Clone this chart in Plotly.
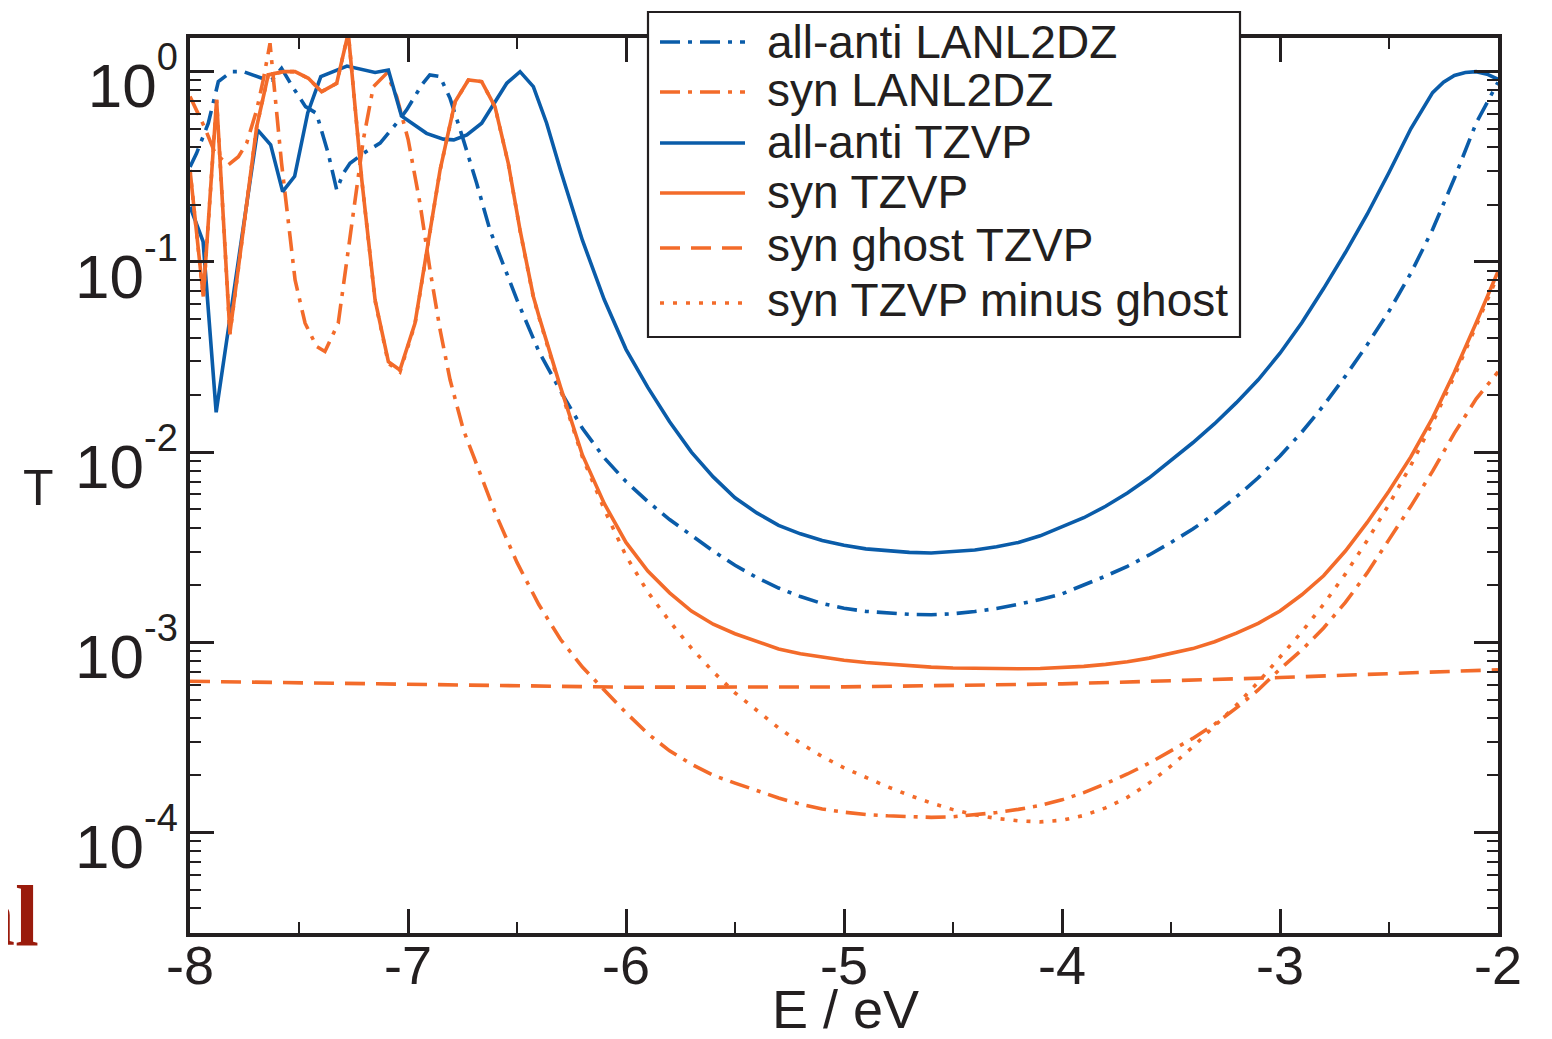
import plotly.graph_objects as go

# ---------------- data ----------------
# all-anti LANL2DZ (blue, dash-dot)
aa_lanl_x = [-8.0, -7.97, -7.916, -7.87, -7.81, -7.755, -7.67, -7.625, -7.58, -7.53,
             -7.47, -7.42, -7.366, -7.327, -7.297, -7.266, -7.205, -7.128, -7.052, -7.006,
             -6.937, -6.9, -6.853, -6.807, -6.746, -6.685, -6.624, -6.6, -6.5, -6.4,
             -6.3, -6.2, -6.1, -6.0, -5.9, -5.8, -5.7, -5.6, -5.5, -5.4,
             -5.3, -5.2, -5.1, -5.0, -4.9, -4.8, -4.7, -4.6, -4.5, -4.4,
             -4.3, -4.2, -4.1, -4.0, -3.9, -3.8, -3.7, -3.6, -3.5, -3.4,
             -3.3, -3.2, -3.1, -3.0, -2.9, -2.8, -2.7, -2.6, -2.5, -2.4,
             -2.3, -2.2, -2.1, -2.0]
aa_lanl_y = [0.316, 0.372, 0.536, 0.887, 1.0, 1.0, 0.923, 0.904, 1.04, 0.834,
             0.655, 0.604, 0.372, 0.239, 0.292, 0.33, 0.372, 0.421, 0.536, 0.63,
             0.851, 0.962, 0.942, 0.724, 0.438, 0.259, 0.147, 0.1247, 0.0631, 0.0339,
             0.0209, 0.01334, 0.00933, 0.007, 0.0055, 0.00442, 0.00363, 0.00302, 0.00254, 0.00219,
             0.00193, 0.00174, 0.0016, 0.00151, 0.001455, 0.001422, 0.001403, 0.001396, 0.001413, 0.001452,
             0.001507, 0.001585, 0.001679, 0.001799, 0.001995, 0.00223, 0.00251, 0.00288, 0.00335, 0.00394,
             0.00473, 0.00582, 0.00733, 0.00955, 0.01274, 0.01758, 0.0251, 0.0367, 0.055, 0.0871,
             0.148, 0.275, 0.537, 0.88]

# syn LANL2DZ (orange, dash-dot)
syn_lanl_x = [-8.0, -7.97, -7.931, -7.885, -7.824, -7.778, -7.74, -7.694, -7.664, -7.633,
              -7.58, -7.518, -7.472, -7.419, -7.381, -7.32, -7.289, -7.251, -7.205, -7.159,
              -7.098, -7.052, -6.999, -6.945, -6.899, -6.853, -6.807, -6.746, -6.7, -6.6,
              -6.5, -6.4, -6.3, -6.2, -6.1, -6.0, -5.9, -5.8, -5.7, -5.6,
              -5.5, -5.4, -5.3, -5.2, -5.1, -5.0, -4.9, -4.8, -4.7, -4.6,
              -4.5, -4.4, -4.3, -4.2, -4.1, -4.0, -3.9, -3.8, -3.7, -3.6,
              -3.5, -3.4, -3.3, -3.2, -3.1, -3.0, -2.9, -2.8, -2.7, -2.6,
              -2.5, -2.4, -2.3, -2.2, -2.1, -2.0]
syn_lanl_y = [0.74, 0.63, 0.504, 0.372, 0.324, 0.357, 0.421, 0.63, 0.904, 1.41,
              0.33, 0.0804, 0.0476, 0.0359, 0.0338, 0.0476, 0.0838, 0.18, 0.438, 0.834,
              0.98, 0.74, 0.438, 0.203, 0.0908, 0.044, 0.024, 0.0131, 0.00955, 0.00479,
              0.00263, 0.00158, 0.001035, 0.000741, 0.000562, 0.000427, 0.000331, 0.000269, 0.000229, 0.0002,
              0.000182, 0.000166, 0.000152, 0.000141, 0.000133, 0.000128, 0.0001245, 0.0001225, 0.0001208, 0.0001202,
              0.0001211, 0.0001236, 0.0001274, 0.0001324, 0.000139, 0.0001486, 0.0001622, 0.0001807, 0.0002032, 0.0002317,
              0.000269, 0.0003126, 0.0003715, 0.000452, 0.000562, 0.000724, 0.000912, 0.001189, 0.001622, 0.002317,
              0.003467, 0.005188, 0.00794, 0.01259, 0.01905, 0.02642]

# all-anti TZVP (blue, solid)
aa_tzvp_x = [-8.0, -7.94, -7.88, -7.69, -7.63, -7.575, -7.52, -7.46, -7.40, -7.28,
             -7.151, -7.09, -7.03, -6.915, -6.838, -6.79, -6.73, -6.662, -6.547, -6.486,
             -6.425, -6.364, -6.3, -6.2, -6.1, -6.0, -5.9, -5.8, -5.7, -5.6,
             -5.5, -5.4, -5.3, -5.2, -5.1, -5.0, -4.9, -4.8, -4.7, -4.6,
             -4.5, -4.4, -4.3, -4.2, -4.1, -4.0, -3.9, -3.8, -3.7, -3.6,
             -3.5, -3.4, -3.3, -3.2, -3.1, -3.0, -2.9, -2.8, -2.7, -2.6,
             -2.5, -2.4, -2.3, -2.25, -2.2, -2.15, -2.1, -2.05, -2.0]
aa_tzvp_y = [0.195, 0.128, 0.0162, 0.494, 0.412, 0.234, 0.282, 0.607, 0.942, 1.07,
             0.99, 1.02, 0.585, 0.474, 0.442, 0.438, 0.465, 0.536, 0.869, 1.0,
             0.834, 0.536, 0.302, 0.130, 0.0634, 0.0347, 0.0219, 0.01445, 0.0100, 0.00741,
             0.00575, 0.00479, 0.00412, 0.00372, 0.00343, 0.00324, 0.0031, 0.00302, 0.00297, 0.00295,
             0.00299, 0.00306, 0.00318, 0.00335, 0.00363, 0.00403, 0.00452, 0.00519, 0.0061, 0.00733,
             0.00902, 0.0112, 0.0141, 0.0182, 0.024, 0.0331, 0.0479, 0.0724, 0.112, 0.178,
             0.295, 0.501, 0.776, 0.881, 0.955, 0.99, 1.0, 0.97, 0.912]

# syn TZVP (orange, solid)
syn_tzvp_x = [-8.0, -7.939, -7.878, -7.817, -7.694, -7.641, -7.572, -7.518, -7.457, -7.396,
              -7.327, -7.274, -7.212, -7.151, -7.09, -7.037, -6.968, -6.914, -6.853, -6.784,
              -6.723, -6.662, -6.601, -6.54, -6.486, -6.425, -6.4, -6.3, -6.2, -6.1,
              -6.0, -5.9, -5.8, -5.7, -5.6, -5.5, -5.4, -5.3, -5.2, -5.1,
              -5.0, -4.9, -4.8, -4.7, -4.6, -4.5, -4.4, -4.3, -4.2, -4.1,
              -4.0, -3.9, -3.8, -3.7, -3.6, -3.5, -3.4, -3.3, -3.2, -3.1,
              -3.0, -2.9, -2.8, -2.7, -2.6, -2.5, -2.4, -2.3, -2.2, -2.1, -2.0]
syn_tzvp_y = [0.304, 0.0658, 0.71, 0.0422, 0.514, 0.962, 1.0, 1.0, 0.923, 0.785,
              0.869, 1.6, 0.27, 0.0631, 0.0299, 0.027, 0.0476, 0.116, 0.304, 0.695,
              0.904, 0.887, 0.655, 0.33, 0.147, 0.0658, 0.0521, 0.0219, 0.00966, 0.00537,
              0.00335, 0.00237, 0.00182, 0.00146, 0.001245, 0.00111, 0.001012, 0.000923, 0.000871, 0.000836,
              0.000805, 0.000783, 0.000766, 0.000752, 0.000741, 0.000733, 0.000728, 0.000726, 0.000726, 0.000728,
              0.000736, 0.000748, 0.000766, 0.000791, 0.000826, 0.000871, 0.000927, 0.001007, 0.001117, 0.001259,
              0.001462, 0.001778, 0.002239, 0.00302, 0.00427, 0.00624, 0.00944, 0.01514, 0.0263, 0.0479, 0.0891]

# syn ghost TZVP (orange, dashed)
ghost_x = [-8.0, -7.0, -6.0, -5.0, -4.0, -3.0, -2.0]
ghost_y = [0.000624, 0.0006, 0.000581, 0.000583, 0.000605, 0.000653, 0.000718]

# syn TZVP minus ghost (orange, dotted)
minus_x = [-8.0, -7.939, -7.878, -7.817, -7.694, -7.641, -7.572, -7.518, -7.457, -7.396,
           -7.327, -7.274, -7.212, -7.151, -7.09, -7.037, -6.968, -6.914, -6.853, -6.784,
           -6.723, -6.662, -6.601, -6.54, -6.486, -6.425, -6.4, -6.3, -6.2, -6.1,
           -6.0, -5.9, -5.8, -5.7, -5.6, -5.5, -5.4, -5.3, -5.2, -5.1,
           -5.0, -4.9, -4.8, -4.7, -4.6, -4.5, -4.4, -4.3, -4.2, -4.1,
           -4.0, -3.9, -3.8, -3.7, -3.6, -3.5, -3.4, -3.3, -3.2, -3.1,
           -3.0, -2.9, -2.8, -2.7, -2.6, -2.5, -2.4, -2.3, -2.2, -2.1, -2.0]
minus_y = [0.304, 0.0652, 0.71, 0.0416, 0.514, 0.962, 1.0, 1.0, 0.923, 0.785,
           0.869, 1.6, 0.27, 0.0625, 0.0293, 0.0264, 0.047, 0.115, 0.303, 0.694,
           0.903, 0.886, 0.654, 0.329, 0.146, 0.0652, 0.0515, 0.0213, 0.0094, 0.00501,
           0.00285, 0.00184, 0.00129, 0.000933, 0.0007, 0.000543, 0.000437, 0.000355, 0.000295, 0.000251,
           0.000219, 0.000195, 0.000174, 0.000157, 0.000143, 0.000132, 0.000124, 0.0001186, 0.0001153, 0.0001138,
           0.0001161, 0.000123, 0.0001349, 0.0001531, 0.000182, 0.000224, 0.000282, 0.000363, 0.000468, 0.000617,
           0.000832, 0.001135, 0.001585, 0.00229, 0.00343, 0.00531, 0.00851, 0.01429, 0.0251, 0.0457, 0.0851]

series_names = ["all-anti LANL2DZ", "syn LANL2DZ", "all-anti TZVP", "syn TZVP",
                "syn ghost TZVP", "syn TZVP minus ghost"]

x_tick_vals = [-8, -7, -6, -5, -4, -3, -2]
x_tick_text = ["-8", "-7", "-6", "-5", "-4", "-3", "-2"]
x_minor_vals = [-7.5, -6.5, -5.5, -4.5, -3.5, -2.5]
y_tick_vals = [1e-4, 1e-3, 1e-2, 1e-1, 1.0]
y_tick_exp = ["-4", "-3", "-2", "-1", "0"]

# ---------------- style ----------------
BLUE = "#0a5ca9"
ORANGE = "#f36b2a"
FRAME = "#231f20"
TXT = "#231f20"
FONT = "Liberation Sans, Arial, Helvetica, sans-serif"
DASHDOT = "20px,8px,4px,8px"
DASHED = "20px,11px"
DOTTED = "4px,9px"
LW = 3.6

styles = [(BLUE, DASHDOT), (ORANGE, DASHDOT), (BLUE, "solid"), (ORANGE, "solid"),
          (ORANGE, DASHED), (ORANGE, DOTTED)]
datasets = [(aa_lanl_x, aa_lanl_y), (syn_lanl_x, syn_lanl_y), (aa_tzvp_x, aa_tzvp_y),
            (syn_tzvp_x, syn_tzvp_y), (ghost_x, ghost_y), (minus_x, minus_y)]

fig = go.Figure()
for (xs, ys), name, (col, dash) in zip(datasets, series_names, styles):
    fig.add_trace(go.Scatter(x=xs, y=ys, mode="lines", name=name,
                             line=dict(color=col, width=LW, dash=dash),
                             showlegend=False, hoverinfo="x+y+name"))

# The page body has an 8px margin; figure coordinates = page pixels - 8.
OFF = 8
W, H = 1552 - OFF, 1039 - OFF
L, R, T, B = 190 - OFF, 1498 - OFF, 38 - OFF, 933 - OFF


def px_x(p):  # page pixel -> paper x
    return (p - OFF - L) / (R - L)


def px_y(p):  # page pixel -> paper y
    return (B - (p - OFF)) / (B - T)


minor_y = []
for e in range(-5, 1):
    for k in range(2, 10):
        minor_y.append(k * 10.0 ** e)

fig.update_layout(
    width=W, height=H,
    margin=dict(l=L, r=W - R, t=T, b=H - B, autoexpand=False),
    paper_bgcolor="white", plot_bgcolor="white",
    showlegend=False,
    font=dict(family=FONT, color=TXT),
)

fig.update_xaxes(
    range=[-8, -2], showgrid=False, zeroline=False,
    showline=True, linewidth=3.5, linecolor=FRAME, mirror="allticks",
    tickmode="array", tickvals=x_tick_vals, ticktext=x_tick_text,
    ticks="inside", ticklen=24, tickwidth=2.5, tickcolor=FRAME,
    tickfont=dict(size=54, family=FONT, color=TXT),
    ticklabelstandoff=-18,
    minor=dict(tickmode="array", tickvals=x_minor_vals, ticks="inside",
               ticklen=11, tickwidth=2.2, tickcolor=FRAME, showgrid=False),
)

sup_tpl = ('10<sup><span style="font-size:26px"><sup>'
           '<span style="font-size:38px">%s</span></sup></span></sup>')
fig.update_yaxes(
    type="log", range=[-4.528, 0.177], showgrid=False, zeroline=False,
    showline=True, linewidth=3.5, linecolor=FRAME, mirror="allticks",
    tickmode="array", tickvals=y_tick_vals,
    ticktext=[sup_tpl % e for e in y_tick_exp],
    ticks="inside", ticklen=24, tickwidth=2.5, tickcolor=FRAME,
    tickfont=dict(size=62, family=FONT, color=TXT),
    ticklabelstandoff=-4, ticklabelshift=14,
    minor=dict(tickmode="array", tickvals=minor_y, ticks="inside",
               ticklen=11, tickwidth=2.2, tickcolor=FRAME, showgrid=False),
)

# x-axis title
fig.add_annotation(text="E / eV", xref="paper", yref="paper", x=px_x(845), y=px_y(1009),
                   xanchor="center", yanchor="middle", showarrow=False,
                   font=dict(size=54, family=FONT, color=TXT))

# y-axis label (horizontal "T")
fig.add_annotation(text="T", xref="paper", yref="paper", x=px_x(38), y=px_y(488),
                   xanchor="center", yanchor="middle", showarrow=False,
                   font=dict(size=50, family=FONT, color=TXT))

# cropped slide text at bottom-left
fig.add_annotation(text="<b>al</b>", xref="paper", yref="paper", x=px_x(41), y=px_y(966),
                   xanchor="right", yanchor="bottom", showarrow=False,
                   font=dict(size=86, family="Liberation Serif, serif", color="#9a1b0c"))

# ---------------- legend (boxed, as in the original) ----------------
fig.add_shape(type="rect", xref="paper", yref="paper",
              x0=px_x(648), x1=px_x(1240), y0=px_y(337), y1=px_y(12),
              line=dict(color=FRAME, width=2.2), fillcolor="white", layer="above")
leg_rows = [42, 92, 143, 193, 248, 303]
leg_text_y = [42, 90, 142, 192, 245, 300]
for name, (col, dash), ly, ty in zip(series_names, styles, leg_rows, leg_text_y):
    fig.add_shape(type="line", xref="paper", yref="paper",
                  x0=px_x(660), x1=px_x(745), y0=px_y(ly), y1=px_y(ly),
                  line=dict(color=col, width=LW, dash=dash), layer="above")
    fig.add_annotation(text=name, xref="paper", yref="paper", x=px_x(765), y=px_y(ty),
                       xanchor="left", yanchor="middle", showarrow=False,
                       font=dict(size=46, family=FONT, color=TXT))

fig.write_html("out.html")
